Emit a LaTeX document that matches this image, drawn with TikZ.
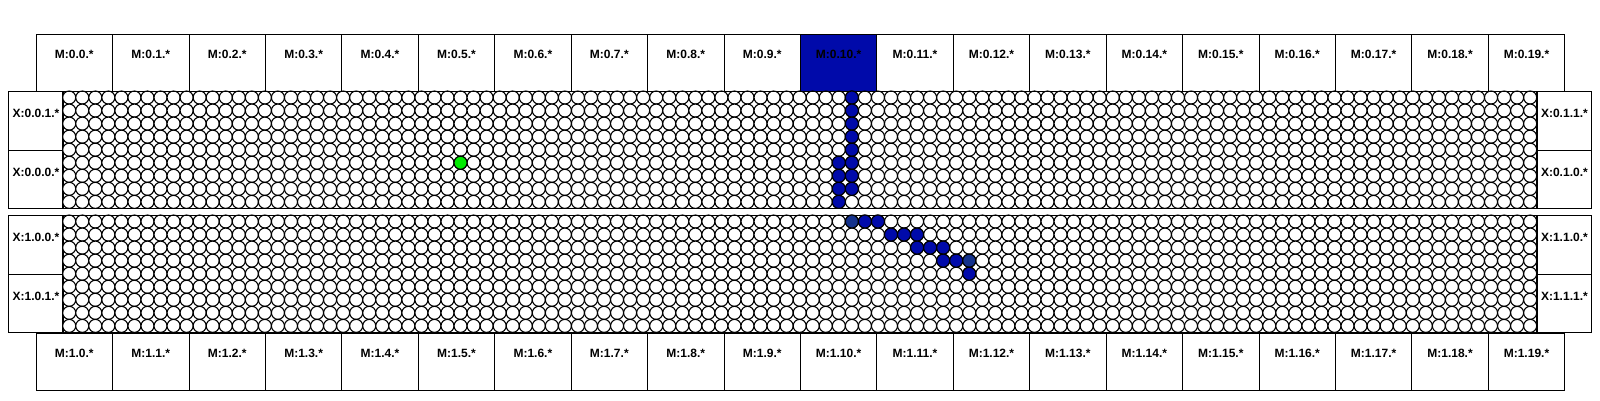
\documentclass[tikz,border=0pt]{standalone}
\usepackage{fontspec}
\setmainfont{Liberation Sans}
\definecolor{pathblue}{RGB}{0,10,170}
\definecolor{endblue}{RGB}{20,50,140}
\definecolor{hitgreen}{RGB}{0,235,0}

\begin{document}
\begin{tikzpicture}[x=1pt,y=-1pt,
  mbox/.style={rectangle,draw=black,line width=0.8pt,anchor=north west,inner sep=0pt,
    minimum width=76.43pt,text height=23.3pt,text depth=33.4pt,font=\bfseries\fontsize{12}{14}\selectfont},
  xbox/.style={rectangle,draw=black,line width=0.8pt,anchor=north west,inner sep=0pt,
    minimum width=54.6pt,text height=26.3pt,text depth=32.3pt,font=\bfseries\fontsize{12}{14}\selectfont},
  cell/.style={draw=black,line width=1.1pt,fill=white},
  panel/.style={draw=black,line width=1pt}]
\useasboundingbox (0,0) rectangle (1600,400);
% memory banks
\foreach \i in {0,...,19}{
  \node[mbox] (mt\i) at ({35.7+\i*76.43},34.3) {M:0.\i.*};
  \node[mbox] (mb\i) at ({35.7+\i*76.43},333.3) {M:1.\i.*};
}
\node[mbox,fill=pathblue] (mt10) at ({35.7+10*76.43},34.3) {M:0.10.*};
% crossbar ports
\node[xbox] (x001) at (8.3,91) {X:0.0.1.*};
\node[xbox] (x000) at (8.3,149.7) {X:0.0.0.*};
\node[xbox] (x100) at (8.3,215) {X:1.0.0.*};
\node[xbox] (x101) at (8.3,273.7) {X:1.0.1.*};
\node[xbox] (x011) at (1536.7,91) {X:0.1.1.*};
\node[xbox] (x010) at (1536.7,149.7) {X:0.1.0.*};
\node[xbox] (x110) at (1536.7,215) {X:1.1.0.*};
\node[xbox] (x111) at (1536.7,273.7) {X:1.1.1.*};
% switch grids
\foreach \top in {91,215}{
  \foreach \r in {0,...,8}
    \foreach \c in {0,...,112}
      \draw[cell] ({62.7+(\c+0.5)*13.044},{\top+(\r+0.5)*13.044}) circle [radius=6.52pt];
  \draw[panel] (62.7,\top) rectangle (1536.7,{\top+9*13.044});
}
% routed path
\foreach \c/\r in {60/0,60/1,60/2,60/3,60/4,60/5,60/6,60/7,59/5,59/6,59/7,59/8}
  \draw[cell,fill=pathblue] ({62.7+(\c+0.5)*13.044},{91+(\r+0.5)*13.044}) circle [radius=6.52pt];
\foreach \c/\r/\col in {60/0/endblue,61/0/pathblue,62/0/pathblue,63/1/pathblue,64/1/pathblue,65/1/pathblue,
    65/2/pathblue,66/2/pathblue,67/2/pathblue,67/3/pathblue,68/3/pathblue,69/3/endblue,69/4/pathblue}
  \draw[cell,fill=\col] ({62.7+(\c+0.5)*13.044},{215+(\r+0.5)*13.044}) circle [radius=6.52pt];
\draw[cell,fill=hitgreen] ({62.7+(30+0.5)*13.044},{91+(5+0.5)*13.044}) circle [radius=6.52pt];
\end{tikzpicture}
\end{document}
